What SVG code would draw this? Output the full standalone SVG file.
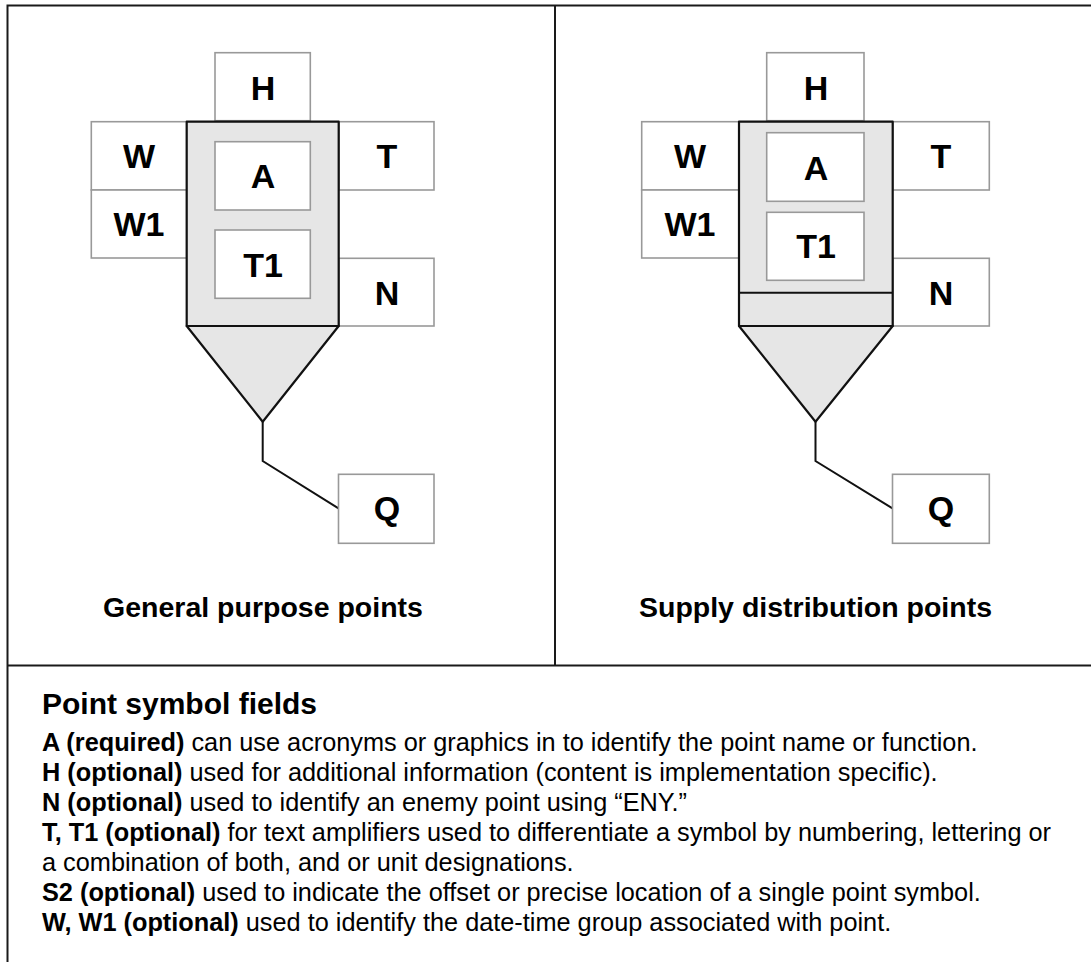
<svg xmlns="http://www.w3.org/2000/svg" width="1091" height="962" viewBox="0 0 1091 962">
<style>
.bg{fill:#ffffff}
.frame{fill:none;stroke:#1a1a1a;stroke-width:2}
.fb{fill:#ffffff;stroke:#999999;stroke-width:1.6}
.body{fill:#e6e6e6;stroke:#111111;stroke-width:2.2;stroke-linejoin:round}
.ln{fill:none;stroke:#111111;stroke-width:2}
.lt{font-family:"Liberation Sans",Arial,sans-serif;font-weight:bold;font-size:34px;fill:#000;text-anchor:middle}
.cap{font-family:"Liberation Sans",Arial,sans-serif;font-weight:bold;font-size:28.5px;fill:#000;text-anchor:middle}
.ttl{font-family:"Liberation Sans",Arial,sans-serif;font-weight:bold;font-size:30px;fill:#000}
.tx{font-family:"Liberation Sans",Arial,sans-serif;font-size:25.3px;fill:#000}
.b{font-weight:bold}
</style>
<rect class="bg" x="0" y="0" width="1091" height="962"/>
<g id="frame">
<path class="frame" d="M7.5 970 V5.5 H1100 M555 5.5 V665.5 M7.5 665.5 H1100"/>
</g>
<g id="connectors">
<path class="ln" d="M262.7 421.7 V461 L338.5 508.3"/>
<path class="ln" d="M815.5 421.7 V461 L892.5 508.3"/>
</g>
<g id="left-symbol">
<g id="l-H"><rect class="fb" x="215" y="52.7" width="95.3" height="68"/><text class="lt" x="263" y="100">H</text></g>
<g id="l-W"><rect class="fb" x="91.3" y="121.7" width="95.4" height="68.3"/><text class="lt" x="139" y="168.3">W</text></g>
<g id="l-W1"><rect class="fb" x="91.3" y="190" width="95.4" height="68"/><text class="lt" x="139" y="236">W1</text></g>
<g id="l-T"><rect class="fb" x="338.7" y="121.7" width="95.3" height="68.3"/><text class="lt" x="387" y="168.3">T</text></g>
<g id="l-N"><rect class="fb" x="338.7" y="258.3" width="95.3" height="67.7"/><text class="lt" x="387" y="305">N</text></g>
<g id="l-Q"><rect class="fb" x="338.5" y="474.3" width="95.5" height="69"/><text class="lt" x="387" y="520">Q</text></g>
<g id="l-body">
<polygon class="body" points="186.7,326 338.7,326 262.7,421.7"/>
<rect class="body" x="186.7" y="121.7" width="152" height="204.3"/>
</g>
<g id="l-A"><rect class="fb" x="215" y="141.7" width="95.3" height="68.3"/><text class="lt" x="263" y="188.3">A</text></g>
<g id="l-T1"><rect class="fb" x="215" y="230" width="95.3" height="68.3"/><text class="lt" x="263" y="277.3">T1</text></g>
<g id="l-caption"><text class="cap" x="263" y="616.7">General purpose points</text></g>
</g>
<g id="right-symbol">
<g id="r-H"><rect class="fb" x="766.7" y="52.7" width="97.3" height="68"/><text class="lt" x="816" y="100">H</text></g>
<g id="r-W"><rect class="fb" x="641.7" y="121.7" width="97.3" height="68.3"/><text class="lt" x="690" y="168.3">W</text></g>
<g id="r-W1"><rect class="fb" x="641.7" y="190" width="97.3" height="68"/><text class="lt" x="690" y="236">W1</text></g>
<g id="r-T"><rect class="fb" x="892.7" y="121.7" width="96.6" height="68.3"/><text class="lt" x="941" y="168.3">T</text></g>
<g id="r-N"><rect class="fb" x="892.7" y="258.3" width="96.6" height="67.7"/><text class="lt" x="941" y="305">N</text></g>
<g id="r-Q"><rect class="fb" x="892.5" y="474.3" width="96.8" height="69"/><text class="lt" x="941" y="520">Q</text></g>
<g id="r-body">
<polygon class="body" points="739,326 892.7,326 815.5,421.7"/>
<rect class="body" x="739" y="121.7" width="153.7" height="204.3"/>
<line class="ln" x1="739" y1="292.7" x2="892.7" y2="292.7"/>
</g>
<g id="r-A"><rect class="fb" x="766.7" y="132.7" width="97.3" height="68.6"/><text class="lt" x="816" y="180">A</text></g>
<g id="r-T1"><rect class="fb" x="766.7" y="212.3" width="97.3" height="68"/><text class="lt" x="816" y="258.3">T1</text></g>
<g id="r-caption"><text class="cap" x="815.5" y="616.7">Supply distribution points</text></g>
</g>
<g id="legend">
<text class="ttl" x="42" y="713.5">Point symbol fields</text>
<text class="tx" x="42" y="751"><tspan class="b">A (required)</tspan> can use acronyms or graphics in to identify the point name or function.</text>
<text class="tx" x="42" y="781"><tspan class="b">H (optional)</tspan> used for additional information (content is implementation specific).</text>
<text class="tx" x="42" y="811"><tspan class="b">N (optional)</tspan> used to identify an enemy point using “ENY.”</text>
<text class="tx" x="42" y="841"><tspan class="b">T, T1 (optional)</tspan> for text amplifiers used to differentiate a symbol by numbering, lettering or</text>
<text class="tx" x="42" y="871"><tspan class="b"></tspan>a combination of both, and or unit designations.</text>
<text class="tx" x="42" y="901"><tspan class="b">S2 (optional)</tspan> used to indicate the offset or precise location of a single point symbol.</text>
<text class="tx" x="42" y="931"><tspan class="b">W, W1 (optional)</tspan> used to identify the date-time group associated with point.</text>
</g>
</svg>
